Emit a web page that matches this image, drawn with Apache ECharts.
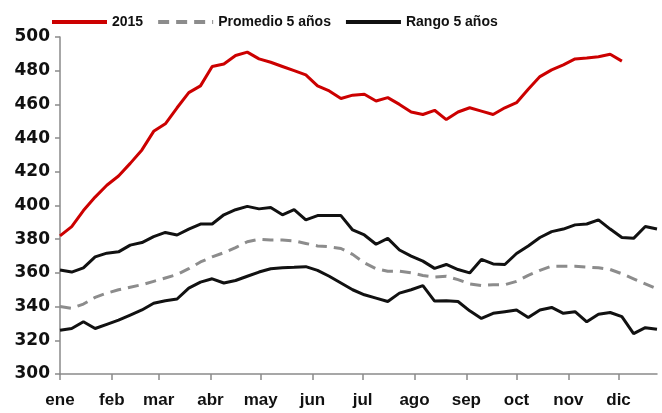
<!DOCTYPE html>
<html>
<head>
<meta charset="utf-8">
<script src="https://cdn.jsdelivr.net/npm/echarts@6/dist/echarts.min.js"></script>
<style>
  html, body { margin: 0; padding: 0; background: #fff; }
  #chart { width: 662px; height: 413px; }
</style>
</head>
<body>
<div id="chart"></div>
<script>
// semanas del año (día 0, 7, 14 ...)
const weekDays = Array.from({ length: 52 }, (_, i) => i * 7)

// etiquetas de meses y día de inicio de cada mes
const monthLabels = ['ene', 'feb', 'mar', 'abr', 'may', 'jun', 'jul', 'ago', 'sep', 'oct', 'nov', 'dic']
const monthStarts = [0, 31, 59, 90, 120, 151, 181, 212, 243, 273, 304, 334]

const yTicks = [300, 320, 340, 360, 380, 400, 420, 440, 460, 480, 500]

const serie2015 = [382, 387.5, 397, 405, 412, 417.5, 425, 433, 444, 448.5, 458, 467, 471, 482.5, 484, 489, 491, 487, 485, 482.5,
  480, 477.5, 471, 468, 463.5, 465.5, 466, 462, 464, 460, 455.5, 454, 456.5, 451, 455.5, 458, 456, 454, 458, 461,
  469, 476.5, 480.5, 483.5, 487, 487.5, 488.3, 489.8, 485.7]

const promedio5 = [340, 339, 341.5, 345.5, 348, 350, 351.5, 353, 355, 357, 359, 362.5, 366.5, 369.5, 372, 375, 378.5, 380, 379.5, 379.5,
  379, 377.5, 376, 375.5, 374.5, 371, 366, 362.5, 361, 361, 360, 358.5, 357.5, 358, 356, 353.5, 352.5, 353, 353, 355,
  358.5, 361.5, 364, 364, 364, 363.5, 363, 362, 359.5, 356.5, 353.5, 350.5]

const rangoMax = [361.7, 360.5, 363, 369.5, 371.7, 372.5, 376.5, 378, 381.5, 384, 382.5, 386, 389, 389, 394.5, 397.5, 399.5, 398, 398.8, 394.5,
  397.5, 391.5, 394, 394, 394, 385.5, 382.5, 377, 380.5, 373.6, 370, 367, 362.7, 365, 362, 360, 368, 365.3, 365, 371.5,
  376, 381, 384.5, 386, 388.5, 389, 391.5, 386, 381, 380.5, 387.5, 386]

const rangoMin = [326, 327, 331, 327, 329.5, 332, 335, 338, 342, 343.5, 344.5, 351, 354.5, 356.5, 354, 355.5, 358, 360.5, 362.5, 363,
  363.3, 363.7, 361.5, 358, 354, 350, 347, 345, 343, 348, 350, 352.4, 343.3, 343.5, 343, 337.5, 333, 336, 337, 338,
  333.5, 338, 339.5, 336, 337, 331, 335.5, 336.5, 334, 324, 327.5, 326.5]

const pairs = (vals) => vals.map((v, i) => [weekDays[i], v])

const chart = echarts.init(document.getElementById('chart'))
const axisGray = '#8a8a8a'

chart.setOption({
  animation: false,
  legend: {
    left: 45,
    top: 10,
    itemWidth: 55,
    itemHeight: 14,
    itemGap: 13,
    itemStyle: { opacity: 0 },
    lineStyle: { width: 4 },
    data: ['2015', 'Promedio 5 años', 'Rango 5 años'],
    textStyle: {
      fontFamily: '"Liberation Sans", Arial, sans-serif',
      fontWeight: 'bold',
      fontSize: 14,
      color: '#111'
    }
  },
  grid: { left: 60, right: 5, top: 37, bottom: 39, containLabel: false },
  xAxis: {
    type: 'value',
    min: 0,
    max: 357,
    splitLine: { show: false },
    axisLine: { lineStyle: { color: axisGray, width: 1.5 } },
    axisTick: { customValues: monthStarts, length: 6, lineStyle: { color: axisGray, width: 1.5 } },
    axisLabel: {
      customValues: monthStarts,
      margin: 18,
      formatter: (v) => monthLabels[monthStarts.indexOf(v)],
      fontFamily: '"Liberation Sans", Arial, sans-serif',
      fontWeight: 'bold',
      fontSize: 17,
      color: '#111'
    }
  },
  yAxis: {
    type: 'value',
    min: yTicks[0],
    max: yTicks[yTicks.length - 1],
    interval: 20,
    splitLine: { show: false },
    axisLine: { show: true, lineStyle: { color: axisGray, width: 1.5 } },
    axisTick: { show: true, length: 5, lineStyle: { color: axisGray, width: 1.5 } },
    axisLabel: {
      margin: 10,
      fontFamily: '"DejaVu Sans", sans-serif',
      fontWeight: 'bold',
      fontSize: 17,
      color: '#111'
    }
  },
  series: [
    {
      name: '2015', type: 'line', symbol: 'none', data: pairs(serie2015),
      lineStyle: { color: '#cc0000', width: 3 }, itemStyle: { color: '#cc0000' }, z: 5
    },
    {
      name: 'Promedio 5 años', type: 'line', symbol: 'none', data: pairs(promedio5),
      lineStyle: { color: '#8c8c8c', width: 3, type: [11, 7] }, itemStyle: { color: '#8c8c8c' }
    },
    {
      name: 'Rango 5 años', type: 'line', symbol: 'none', data: pairs(rangoMax),
      lineStyle: { color: '#111', width: 3 }, itemStyle: { color: '#111' }
    },
    {
      name: 'Rango 5 años', type: 'line', symbol: 'none', data: pairs(rangoMin),
      lineStyle: { color: '#111', width: 3 }, itemStyle: { color: '#111' }
    }
  ]
})
</script>
</body>
</html>
